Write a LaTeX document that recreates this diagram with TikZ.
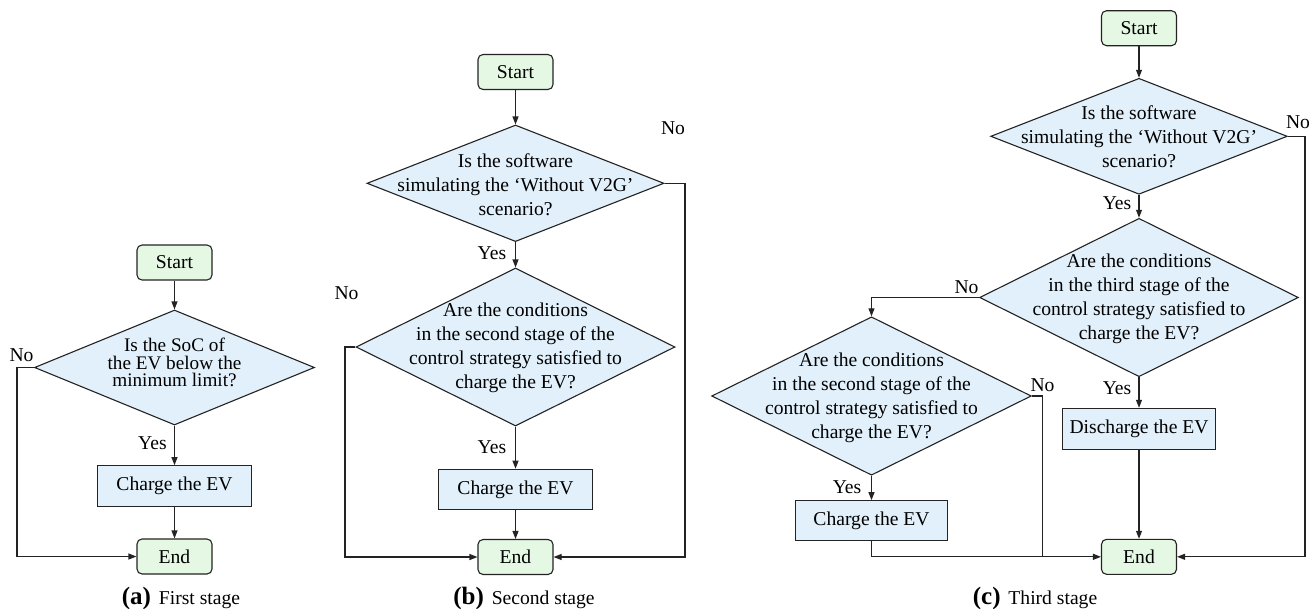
\documentclass[tikz,border=0pt]{standalone}
\usepackage{fontspec}
\setmainfont{Liberation Serif}
\usetikzlibrary{shapes.geometric,arrows.meta}
\definecolor{tgreen}{RGB}{228,248,228}
\definecolor{tblue}{RGB}{225,240,250}
\definecolor{tline}{RGB}{35,35,35}
\newcommand\bodyfont{\fontsize{19.6}{24}\selectfont}
\newcommand\tightfont{\fontsize{19.2}{17.2}\selectfont}
\newcommand\capfont{\fontsize{25}{25}\selectfont\bfseries}
\tikzset{
  term/.style={draw=tline, fill=tgreen, rounded corners=5pt, minimum width=75pt, minimum height=35pt, inner sep=0pt, line width=1.1pt, font=\bodyfont},
  proc/.style={draw=tline, fill=tblue, minimum width=154pt, minimum height=40.5pt, inner sep=0pt, line width=1.1pt, font=\bodyfont},
  dec/.style={draw=tline, fill=tblue, shape=diamond, inner sep=0pt, line width=1.1pt},
  lbl/.style={inner sep=0pt, font=\bodyfont},
  dtxt/.style={inner sep=0pt, font=\bodyfont, align=center},
  arr/.style={draw=tline, line width=1.1pt, -{Triangle[length=8pt,width=6pt]}},
  ln/.style={draw=tline, line width=1.1pt}
}
\begin{document}
\begin{tikzpicture}[x=1pt,y=-1pt]
\useasboundingbox (0,0) rectangle (1309,608);
% ---------------- (a) ----------------
\node[term] (startA) at (174.5,262.5) {Start};
\node[dec, minimum width=280pt, minimum height=115pt] (decA) at (174.5,367.5) {};
\node[dtxt, font=\tightfont] (decAt) at (174.5,362.5) {Is the SoC of\\the EV below the\\minimum limit?};
\node[proc] (chA) at (174.5,486) {Charge the EV};
\node[term] (endA) at (174.5,556.5) {End};
\node[lbl] (noA) at (21.5,355) {No};
\node[lbl] (yesA) at (152.5,443) {Yes};
\coordinate (aL) at (17,460);
\draw[arr] (startA.south) -- (decA.north);
\draw[arr] (decA.south) -- (chA.north);
\draw[arr] (chA.south) -- (endA.north);
\draw[arr] (decA.west) -| (aL) |- (endA.west);
\node[lbl, anchor=base] (capA) at (181,604) {{\capfont (a)}\hspace{3pt} First stage};
% ---------------- (b) ----------------
\node[term] (startB) at (515.5,72) {Start};
\node[dec, minimum width=297pt, minimum height=116.6pt] (decB1) at (515.5,183.3) {};
\node[dtxt] (decB1t) at (515.5,185) {Is the software\\simulating the ‘Without V2G’\\scenario?};
\node[dec, minimum width=319pt, minimum height=158pt] (decB2) at (515.5,347) {};
\node[dtxt] (decB2t) at (515.5,348) {Are the conditions\\in the second stage of the\\control strategy satisfied to\\charge the EV?};
\node[proc] (chB) at (515.5,489.5) {Charge the EV};
\node[term] (endB) at (515.5,557) {End};
\node[lbl] (noB1) at (673,128) {No};
\node[lbl] (yesB1) at (492,253) {Yes};
\node[lbl] (noB2) at (346.5,293) {No};
\node[lbl] (yesB2) at (492,447) {Yes};
\coordinate (bR) at (685,300);
\coordinate (bL) at (345,450);
\draw[arr] (startB.south) -- (decB1.north);
\draw[arr] (decB1.south) -- (decB2.north);
\draw[arr] (decB2.south) -- (chB.north);
\draw[arr] (chB.south) -- (endB.north);
\draw[arr] (decB1.east) -| (bR) |- (endB.east);
\draw[arr] (decB2.west) -| (bL) |- (endB.west);
\node[lbl, anchor=base] (capB) at (524,604) {{\capfont (b)}\hspace{3pt} Second stage};
% ---------------- (c) ----------------
\node[term] (startC) at (1139,28.2) {Start};
\node[dec, minimum width=296.6pt, minimum height=116pt] (decC1) at (1139,136.3) {};
\node[dtxt] (decC1t) at (1139,137) {Is the software\\simulating the ‘Without V2G’\\scenario?};
\node[dec, minimum width=318.8pt, minimum height=158.4pt] (decC2) at (1139,297.5) {};
\node[dtxt] (decC2t) at (1139,299) {Are the conditions\\in the third stage of the\\control strategy satisfied to\\charge the EV?};
\node[dec, minimum width=319.6pt, minimum height=158.4pt] (decC3) at (871.5,396) {};
\node[dtxt] (decC3t) at (871.5,398) {Are the conditions\\in the second stage of the\\control strategy satisfied to\\charge the EV?};
\node[proc, minimum width=152pt, minimum height=40pt] (chC) at (871.5,520.7) {Charge the EV};
\node[proc, minimum width=152.7pt, minimum height=40.7pt] (disC) at (1139,428.7) {Discharge the EV};
\node[term] (endC) at (1139,556.8) {End};
\node[lbl] (noC1) at (1298,122) {No};
\node[lbl] (yesC1) at (1117,203) {Yes};
\node[lbl] (noC2) at (966.5,286.7) {No};
\node[lbl] (yesC2) at (1117,388.3) {Yes};
\node[lbl] (noC3) at (1042.5,385) {No};
\node[lbl] (yesC3) at (847,486.7) {Yes};
\coordinate (cR) at (1305,300);
\coordinate (cM) at (1042.5,556.8);
\draw[arr] (startC.south) -- (decC1.north);
\draw[arr] (decC1.south) -- (decC2.north);
\draw[arr] (decC1.east) -| (cR) |- (endC.east);
\draw[arr] (decC2.west) -| (decC3.north);
\draw[arr] (decC2.south) -- (disC.north);
\draw[arr] (disC.south) -- (endC.north);
\draw[arr] (decC3.south) -- (chC.north);
\draw[arr] (chC.south) |- (endC.west);
\draw[ln] (decC3.east) -| (cM);
\node[lbl, anchor=base] (capC) at (1035,604) {{\capfont (c)}\hspace{3pt} Third stage};
\end{tikzpicture}
\end{document}
